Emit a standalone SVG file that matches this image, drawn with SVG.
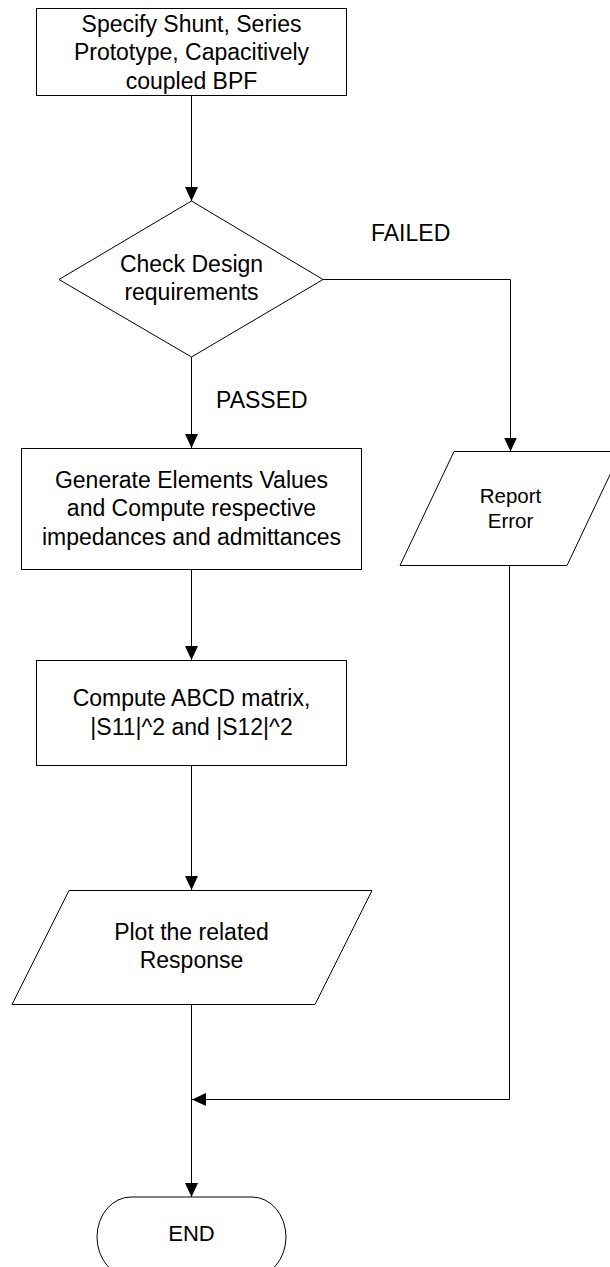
<svg xmlns="http://www.w3.org/2000/svg" width="610" height="1267" viewBox="0 0 610 1267">
  <defs>
    <marker id="arrow" markerUnits="userSpaceOnUse" markerWidth="14" markerHeight="14" refX="14" refY="6.5" orient="auto">
      <path d="M0,0 L14,6.5 L0,13 Z" fill="#000"/>
    </marker>
  </defs>
  <style>
    .shape { fill: #fff; stroke: #000; stroke-width: 1; }
    .edge { fill: none; stroke: #000; stroke-width: 1; marker-end: url(#arrow); }
    text { font-family: "Liberation Sans", Arial, sans-serif; fill: #000; }
    .t { font-size: 23px; text-anchor: middle; }
    .s { font-size: 20.5px; text-anchor: middle; }
    .e { font-size: 22px; text-anchor: middle; }
    .lbl { font-size: 23px; }
  </style>
  <rect width="610" height="1267" fill="#fff"/>

  <!-- connectors -->
  <g id="connectors">
    <path class="edge" d="M191.5,96 V201"/>
    <path class="edge" d="M191.5,357 V448"/>
    <path class="edge" d="M323,279.5 H510.5 V451.5"/>
    <path class="edge" d="M191.5,570 V660"/>
    <path class="edge" d="M191.5,766 V890"/>
    <path class="edge" d="M191.5,1005 V1197"/>
    <path class="edge" d="M509.5,566 V1099.5 H192"/>
    <text class="lbl" x="371" y="241">FAILED</text>
    <text class="lbl" x="216" y="408">PASSED</text>
  </g>

  <!-- start: filter specification -->
  <g id="specify">
    <rect class="shape" x="36.5" y="8.5" width="310" height="87"/>
    <text class="t" x="191.5" y="31.5">Specify Shunt, Series</text>
    <text class="t" x="191.5" y="60">Prototype, Capacitively</text>
    <text class="t" x="191.5" y="88.5">coupled BPF</text>
  </g>

  <!-- decision -->
  <g id="check">
    <polygon class="shape" points="191.5,201 323,279.5 191.5,357 59,279.5"/>
    <text class="t" x="191.5" y="271.5">Check Design</text>
    <text class="t" x="191.5" y="300">requirements</text>
  </g>

  <g id="generate">
    <rect class="shape" x="21.5" y="448.5" width="340" height="121"/>
    <text class="t" x="191.5" y="487.5">Generate Elements Values</text>
    <text class="t" x="191.5" y="516">and Compute respective</text>
    <text class="t" x="191.5" y="544.5">impedances and admittances</text>
  </g>

  <g id="report">
    <polygon class="shape" points="454,451.5 621,451.5 567,565.5 400,565.5"/>
    <text class="s" x="510.5" y="502.5">Report</text>
    <text class="s" x="510.5" y="527.5">Error</text>
  </g>

  <g id="compute">
    <rect class="shape" x="36.5" y="660.5" width="310" height="105"/>
    <text class="t" x="191.5" y="706">Compute ABCD matrix,</text>
    <text class="t" x="191.5" y="734.5">|S11|^2 and |S12|^2</text>
  </g>

  <g id="plot">
    <polygon class="shape" points="69,890.5 372,890.5 315,1004.5 12,1004.5"/>
    <text class="t" x="191.5" y="939.5">Plot the related</text>
    <text class="t" x="191.5" y="968">Response</text>
  </g>

  <!-- terminator -->
  <g id="end">
    <rect class="shape" x="97" y="1197" width="189" height="80" rx="34" ry="40"/>
    <text class="e" x="191.5" y="1241">END</text>
  </g>
</svg>
